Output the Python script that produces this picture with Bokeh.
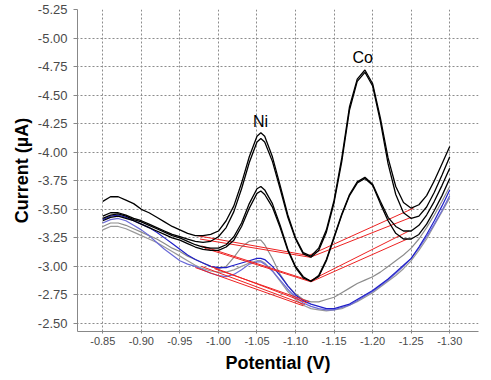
from bokeh.plotting import figure
from bokeh.models import Range1d, FixedTicker, PrintfTickFormatter, ColumnDataSource
from bokeh.core.properties import value
from bokeh.embed import file_html
from bokeh.resources import INLINE

# ---- data ----
potential = [-0.85, -0.86, -0.87, -0.88, -0.89, -0.90, -0.91, -0.92, -0.93, -0.94,
             -0.95, -0.96, -0.97, -0.98, -0.99, -1.00, -1.01, -1.02, -1.03, -1.04,
             -1.05, -1.055, -1.06, -1.07, -1.08, -1.09, -1.10, -1.11, -1.12, -1.13,
             -1.14, -1.15, -1.16, -1.17, -1.18, -1.19, -1.20, -1.21, -1.22, -1.23,
             -1.24, -1.25, -1.26, -1.27, -1.28, -1.29, -1.30]

black_1 = [-3.57, -3.61, -3.61, -3.58, -3.55, -3.50, -3.47, -3.43, -3.39, -3.35,
           -3.32, -3.29, -3.27, -3.27, -3.28, -3.31, -3.40, -3.53, -3.73, -3.96,
           -4.14, -4.17, -4.14, -3.96, -3.71, -3.45, -3.25, -3.12, -3.09, -3.16,
           -3.32, -3.58, -3.95, -4.40, -4.64, -4.72, -4.60, -4.30, -3.95, -3.70,
           -3.56, -3.51, -3.54, -3.62, -3.75, -3.90, -4.05]

black_2 = [-3.44, -3.47, -3.47, -3.45, -3.42, -3.40, -3.37, -3.34, -3.31, -3.28,
           -3.26, -3.24, -3.22, -3.21, -3.22, -3.26, -3.34, -3.48, -3.68, -3.91,
           -4.09, -4.12, -4.09, -3.92, -3.68, -3.43, -3.24, -3.11, -3.08, -3.14,
           -3.30, -3.56, -3.92, -4.37, -4.62, -4.70, -4.58, -4.27, -3.90, -3.63,
           -3.47, -3.42, -3.44, -3.52, -3.65, -3.80, -3.96]

black_3 = [-3.42, -3.45, -3.46, -3.44, -3.41, -3.39, -3.36, -3.33, -3.30, -3.27,
           -3.25, -3.22, -3.19, -3.17, -3.16, -3.16, -3.19, -3.26, -3.38, -3.55,
           -3.68, -3.70, -3.67, -3.55, -3.36, -3.15, -3.00, -2.91, -2.87, -2.92,
           -3.06, -3.26, -3.46, -3.63, -3.74, -3.78, -3.72, -3.57, -3.43, -3.35,
           -3.31, -3.31, -3.36, -3.45, -3.57, -3.71, -3.86]

black_4 = [-3.40, -3.43, -3.44, -3.42, -3.40, -3.37, -3.34, -3.31, -3.28, -3.25,
           -3.23, -3.20, -3.17, -3.15, -3.14, -3.14, -3.17, -3.23, -3.35, -3.51,
           -3.64, -3.66, -3.63, -3.52, -3.34, -3.14, -2.99, -2.90, -2.87, -2.91,
           -3.05, -3.25, -3.45, -3.62, -3.73, -3.77, -3.71, -3.55, -3.40, -3.29,
           -3.24, -3.24, -3.28, -3.37, -3.49, -3.62, -3.77]

gray_1 = [-3.35, -3.38, -3.38, -3.36, -3.33, -3.30, -3.27, -3.24, -3.20, -3.16,
          -3.13, -3.09, -3.06, -3.03, -3.00, -2.98, -3.00, -3.08, -3.17, -3.22,
          -3.23, -3.23, -3.19, -3.07, -2.93, -2.83, -2.76, -2.71, -2.69, -2.69,
          -2.71, -2.73, -2.77, -2.81, -2.85, -2.88, -2.91, -2.95, -3.00, -3.05,
          -3.10, -3.16, -3.24, -3.34, -3.45, -3.57, -3.70]

gray_2 = [-3.32, -3.35, -3.35, -3.33, -3.30, -3.27, -3.24, -3.21, -3.17, -3.13,
          -3.09, -3.05, -3.01, -2.98, -2.96, -2.95, -2.95, -2.97, -3.00, -3.03,
          -3.05, -3.05, -3.03, -2.96, -2.87, -2.78, -2.71, -2.66, -2.63, -2.62,
          -2.61, -2.62, -2.63, -2.66, -2.69, -2.73, -2.77, -2.82, -2.87, -2.92,
          -2.98, -3.05, -3.14, -3.24, -3.36, -3.48, -3.60]

blue_1 = [-3.41, -3.44, -3.45, -3.43, -3.40, -3.37, -3.34, -3.30, -3.25, -3.20,
          -3.15, -3.10, -3.06, -3.03, -3.00, -2.99, -2.99, -3.01, -3.03, -3.05,
          -3.07, -3.07, -3.06, -3.00, -2.92, -2.83, -2.75, -2.70, -2.67, -2.65,
          -2.63, -2.63, -2.65, -2.67, -2.71, -2.75, -2.79, -2.84, -2.89, -2.95,
          -3.01, -3.07, -3.17, -3.28, -3.40, -3.53, -3.67]

blue_2 = [-3.38, -3.41, -3.42, -3.40, -3.36, -3.32, -3.27, -3.21, -3.15, -3.10,
          -3.05, -3.02, -3.00, -2.97, -2.94, -2.92, -2.91, -2.93, -2.97, -3.02,
          -3.04, -3.04, -3.02, -2.96, -2.88, -2.80, -2.73, -2.68, -2.65, -2.63,
          -2.62, -2.62, -2.64, -2.66, -2.70, -2.74, -2.78, -2.83, -2.88, -2.94,
          -3.00, -3.07, -3.16, -3.26, -3.37, -3.49, -3.62]

# red baselines (start / end points)
base_x0 = [-0.972, -0.976, -0.978, -0.982, -1.117, -1.119, -1.119, -1.120,
           -0.995, -0.990, -0.978, -0.970]
base_y0 = [-3.27, -3.24, -3.18, -3.16, -3.095, -3.08, -2.875, -2.865,
           -2.98, -3.00, -3.00, -2.99]
base_x1 = [-1.117, -1.119, -1.119, -1.120, -1.253, -1.250, -1.247, -1.245,
           -1.118, -1.115, -1.112, -1.110]
base_y1 = [-3.095, -3.08, -2.875, -2.865, -3.51, -3.43, -3.31, -3.24,
           -2.69, -2.68, -2.665, -2.655]

peak_labels = ["Ni", "Co"]
peak_x = [-1.0545, -1.187]
peak_y = [-4.265, -4.829]

x_ticks = [-0.85, -0.90, -0.95, -1.00, -1.05, -1.10, -1.15, -1.20, -1.25, -1.30]
y_ticks = [-5.25, -5.00, -4.75, -4.50, -4.25, -4.00, -3.75, -3.50, -3.25, -3.00, -2.75, -2.50]

x_title = "Potential (V)"
y_title = "Current (\u00b5A)"

# ---- figure ----
FONT = "Liberation Sans"
p = figure(width=491, height=380, output_backend="svg", toolbar_location=None,
           x_range=Range1d(-0.8172, -1.3373), y_range=Range1d(-2.43, -5.25),
           min_border_left=77, min_border_right=13, min_border_top=9, min_border_bottom=49)
p.outline_line_color = None
p.background_fill_color = "white"
p.border_fill_color = "white"

for ax in (p.xaxis[0], p.yaxis[0]):
    ax.axis_line_color = "#888888"
    ax.major_tick_line_color = "#888888"
    ax.minor_tick_line_color = None
    ax.major_tick_in = 0
    ax.major_label_text_font = FONT
    ax.major_label_text_color = "#4a4a4a"
    ax.axis_label_text_font = FONT
    ax.axis_label_text_font_style = "bold"
    ax.axis_label_text_font_size = "18px"
    ax.axis_label_text_color = "black"

p.xaxis.ticker = FixedTicker(ticks=x_ticks)
p.yaxis.ticker = FixedTicker(ticks=y_ticks)
p.xaxis.formatter = PrintfTickFormatter(format="%.2f")
p.yaxis.formatter = PrintfTickFormatter(format="%.2f")
p.xaxis.major_tick_out = 2
p.yaxis.major_tick_out = 4
p.xaxis.major_label_text_font_size = "11px"
p.yaxis.major_label_text_font_size = "13px"
p.xaxis.major_label_standoff = 3
p.yaxis.major_label_standoff = 6
p.xaxis.axis_label = x_title
p.yaxis.axis_label = y_title
p.xaxis.axis_label_standoff = 5
p.yaxis.axis_label_standoff = 3

for g in (p.xgrid[0], p.ygrid[0]):
    g.grid_line_color = "#8c8c8c"
    g.grid_line_dash = "2 2"
    g.grid_line_width = 1

src = ColumnDataSource(dict(x=potential, b1=black_1, b2=black_2, b3=black_3, b4=black_4,
                            g1=gray_1, g2=gray_2, u1=blue_1, u2=blue_2))

p.line("x", "g1", source=src, line_color="#8c8c8c", line_width=1.2)
p.line("x", "g2", source=src, line_color="#9a9a9a", line_width=1.2)
p.line("x", "u2", source=src, line_color="#6a6ad8", line_width=1.2)
p.line("x", "u1", source=src, line_color="#2020c8", line_width=1.2)

p.segment(x0=base_x0, y0=base_y0, x1=base_x1, y1=base_y1, line_color="#ee2222", line_width=1)

for col in ("b4", "b3", "b2", "b1"):
    p.line("x", col, source=src, line_color="black", line_width=1.3)

p.text(x=peak_x, y=peak_y, text=peak_labels, text_font=value(FONT), text_font_size="16px",
       text_align="center", text_baseline="middle", text_color="black")

open("out.html", "w").write(file_html(p, INLINE))
